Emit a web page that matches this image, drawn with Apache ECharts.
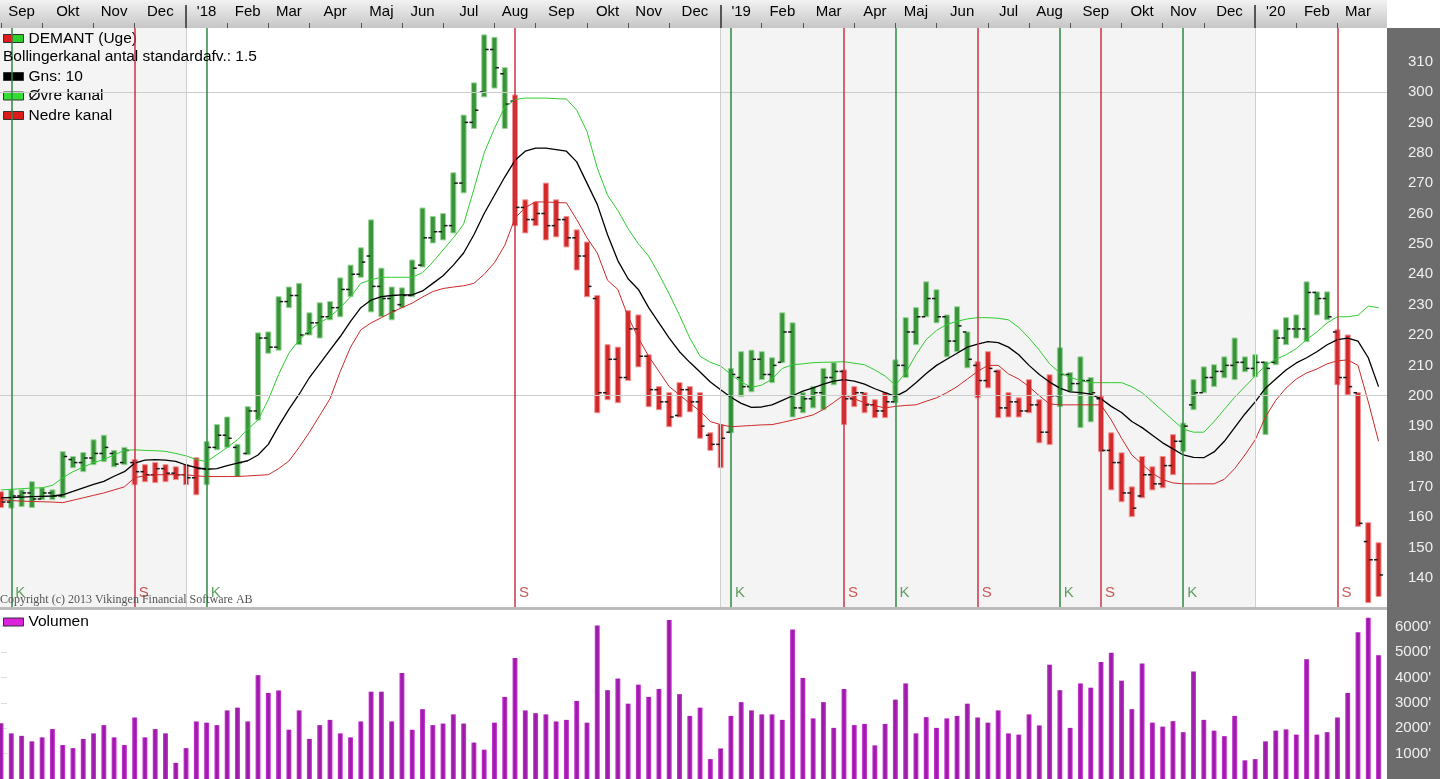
<!DOCTYPE html>
<html><head><meta charset="utf-8">
<script src="https://cdn.jsdelivr.net/npm/echarts@6/dist/echarts.min.js"></script>
<style>html,body{margin:0;padding:0;background:#fff}#c{width:1440px;height:779px}</style>
</head><body><div id="c"></div><script>
// ---------- DATA ----------
const firstWeekEnd = '2017-09-03';   // week-ending date of the first weekly bar
const weekCount = 135;
const monthNames = ['Jan','Feb','Mar','Apr','Maj','Jun','Jul','Aug','Sep','Okt','Nov','Dec'];

const highs = [168.4,169,169,171.7,169.7,169,181.6,180,181.3,185.5,
 187,182,183,179,177.3,178,177.3,176.6,177.3,179.6,
 184.9,190.5,193,184,196.4,220.7,221,232.6,235.8,237,
 227.3,230.6,231,238.8,243,248.7,257.9,242,235.8,235.5,
 244.7,261.8,259,260,273.4,292.4,303,318.8,318,308,
 299,264.5,263.8,270,264.5,259,254.6,250.6,233,216.8,
 216,228,226.6,213.5,203,201,204.3,203,201,187.8,
 190.5,209,214.5,215,214.5,212.5,227.3,224,201,203,
 209,210.9,208.5,203,201,198.7,201,211.8,225.7,229,
 237.5,234.9,226.6,229.3,221,211.2,214.5,208.5,201,199.3,
 205.3,198.7,206.9,215.8,207.6,212.8,206,199.7,187.8,181.2,
 170,180,176.6,180,187.2,191,205.3,209.5,210.2,212.8,
 219,212.8,213.5,211.2,221.7,225.7,226.6,237.5,234.2,234.2,
 221.7,220,201,158.2,151.6];
const lows = [163.2,163,163.5,163.2,165.8,165.8,166.4,176.3,175,177.3,
 178.3,176.6,177.3,170.7,171.7,171.4,171.7,172.4,170.7,167.4,
 170.7,182.2,183,173.4,180.6,192,214,215,229,216.8,
 220,219,225,226,232.6,239,227.6,226,225,229,
 232.6,242.4,250.3,251.3,253.6,266.8,288,298.4,301.3,288,
 256,253.6,256,251.3,252.3,249,241.4,232.6,194.4,198.7,
 197.7,205,209.5,196.4,195.4,189.8,193,194.7,186,182,
 176.3,187.8,199.7,201.3,205.3,204.3,210.9,193,194.4,196,
 195.4,203.6,190.5,196.4,194.4,192.8,192.8,197.7,206,216.8,
 226,224,212.8,214.5,209.2,199.3,202.6,192.8,193,193,
 194.4,184.5,183.9,196.4,201.3,189.5,191.4,181.6,169,165.1,
 160.2,166.4,169,169.7,174,181.6,195.4,201,203,205.9,
 205.3,207.9,206.2,187.2,210.2,216.8,219,217.8,226.6,225,
 203.6,200.3,157,131.9,133.9];
const opens = [167,165,167,168,166,168,167,179,178,179.5,
 181,181,178,178,175,174,176,174.5,174,173,
 176,183,187,183,181,195,219,216,231,233,
 220.5,224,226,229,235,240,246,236,232,230,
 233,243,252,254,256,270,290,300,314,306,
 297,262,258,260,256,258,252,246,232,201,
 212,206,222,213,202,198,193.5,202,198,187,
 184,188,206,203,212,207,211,221,196,199,
 201,206,208,199,201,197,195,198,210,221,
 226,232,226,218,221,210,205,208,196,198,
 195,197,188,200,207,204,205,199,182,178,
 168,167,174,171,177,185,197,201,206,208,
 210,211,209,211,211,219,222,222,234,232,
 221,206,201,152,146];
const closes = [165,167,168,166,168,167,180,178,179.5,181,
 183,177.5,182,175,174,176,174.5,174,173,176,
 183,187,186,178,195,219,216,231,233,220,
 224,226,229,235,240,244,236,232,228,233,
 242,252,254,256,270,290,294,314,308,296,
 262,258,260,256,258,252,246,236,201,212,
 206,222,213,202,198,193,202,198,190,184,
 186,207,203,212,207,210,221,196,199,201,
 206,208,199,201,197,195,198,210,221,226,
 232,226,218,223,212,205,209,196,198,195,
 197,188,200,207,204,205,201,182,178,168,
 163,174,171,177,185,190,201,206,208,210,
 211,209,211,209,219,222,222,234,232,226,
 206,203,158,146,141];

const midBand = [166.4,166.5,166.6,166.8,166.9,167,167.4,168.5,169.7,170.8,
 171.8,173.5,175,177.8,178.8,179,178.8,178.4,177.2,176.3,
 175.8,176,177,177.8,178.6,180.5,184,190,195.5,200.5,
 206,210.5,215,219.5,224.5,229,231.5,232.6,233,233.2,
 233.2,234.5,237,239.5,243,247,253,260,266,272,
 277.5,280.5,281.5,281.5,281,280.5,277,270,263,253,
 244.5,238.5,235,229,224,219,214.5,211,207.8,204.5,
 202,199.5,197.5,196.2,196.3,197,198.5,200,201.5,202.6,
 203.8,204.8,205.3,204.8,203.8,202.3,201,199.8,201.5,204.3,
 207.3,210,212,214,216,217,217.8,217.5,216,213.5,
 210,207,204.5,202.5,201.3,201,200.5,199,196.5,194.5,
 191.5,189.5,187,184.5,182.5,180.5,179.7,179.6,181.5,185,
 189.5,194,198,202.5,205.5,208.5,210.8,212.5,214.5,216.8,
 218.5,219,218,212.5,203];
const upperBand = [169,169.2,169.4,169.6,169.7,170.5,173,175,176.5,178,
 179,180.5,182,182.2,182,181.9,181.7,181,180.2,179,
 178.3,180.6,183,185.5,189,192,198.7,207,214,218.4,
 221.5,224,226,229,232.6,237,238.2,239,239,239,
 239,240.5,244,248,252,256.5,268,280,288,295,
 297.5,298,298,298,297.8,297.7,294,287,275,266,
 261,255,250,246,240,233.5,226.5,219,213,211,
 209.8,207,204.5,202.8,203.5,205.5,209,210.2,210.5,210.9,
 211,211.1,211.2,210.7,210.2,208.5,206.5,203.5,207.5,213.5,
 218.5,221.5,223.5,224.5,225.3,225.7,225.7,225.5,225,222.5,
 219,215,210.5,207.5,206,205,204.3,204.3,204.3,204.3,
 203,201,198,195,192,189,188,188,191.5,195.5,
 199.5,203,206.5,210,212,213.5,215.5,218.5,221,224,
 226,226,226.5,229.5,229];
const lowerBand = [165.8,165.5,165.3,165.2,165.1,165,164.8,165.6,166.4,167.2,
 168,169,170,173,173.7,174,174,174,174,173.6,
 173.4,173.4,173.4,173.4,173.6,173.8,174,176,178.5,183,
 188,193.5,199,208,216,221.7,224,225.7,227.5,229,
 230.5,232.5,234.3,235.3,235.8,236.2,237,240,243.8,249.5,
 258.5,262,263.8,263.8,263.6,263.5,258,252,247,238,
 235,226,219,213,208,203,200.3,197.5,195,191.5,
 190.5,189.8,190,190.2,190.4,190.5,191.2,192,192.8,193.7,
 195.5,197.8,200.3,199,197.7,196.7,196,196.5,196.8,197,
 198.2,199.3,201,203,205.5,208,210,210,207.2,205.5,
 203,200,197.3,197,197,197,197,197,192,186,
 180.5,177.5,174.5,172.4,171.3,171,171,171,171,172.5,
 176,180.5,185.5,193,198.5,202.5,205.5,207.5,208.8,210.5,
 211.5,211.8,210,198,185];

const volumes = [2196,1797,1700,1483,1641,1967,1337,1217,1580,1797,
 2123,1641,1337,2424,1641,1967,1797,638,1217,2268,
 2220,2123,2703,2812,2268,4091,3391,3489,1942,2703,
 1580,2123,2330,1797,1641,2268,3439,3439,2268,4177,
 1942,2751,2123,2184,2546,2184,1435,1156,2220,3234,
 4768,2703,2594,2546,2268,2330,3077,2220,6048,3500,
 3959,2968,3717,3234,3548,6265,3343,2486,2812,783,
 1205,2486,3029,2703,2546,2546,2330,5891,3982,2388,
 3029,2014,3548,2123,2171,1326,2171,3127,3765,1797,
 2438,2014,2388,2486,2968,2424,2220,2703,1797,1749,
 2546,2111,4503,3500,2014,3765,3597,4611,4974,3874,
 2751,4551,2220,2063,2280,1845,4237,2330,1906,1688,
 2486,735,783,1483,1906,1954,1749,4720,1749,1845,
 2424,3391,5782,6351,4877];

const buySignals  = [1, 20, 71, 87, 103, 115];   // "K"
const sellSignals = [13, 50, 82, 95, 107, 130];  // "S"
const priceTicks  = [140,150,160,170,180,190,200,210,220,230,240,250,260,270,280,290,300,310];
const volumeTicks = [1000,2000,3000,4000,5000,6000];
const priceGridLevels = [200, 300];

// ---------- DERIVED ----------
const DAY = 86400000;
const t0 = Date.parse(firstWeekEnd + 'T00:00:00Z');
const weekDates = Array.from({length: weekCount}, (_, i) => new Date(t0 + i * 7 * DAY));
const monthStarts = [];
weekDates.forEach((d, i) => {
  if (i === 0 || d.getUTCMonth() !== weekDates[i - 1].getUTCMonth()) monthStarts.push(i);
});
const yearStarts = monthStarts.filter(i => weekDates[i].getUTCMonth() === 0);
const monthLabelMap = new Map();
const monthLabelPos = monthStarts.map((s, k) => {
  const e = k + 1 < monthStarts.length ? monthStarts[k + 1] : weekCount - 1;
  const pos = (s + e) / 2;
  const d = weekDates[s];
  const m = d.getUTCMonth();
  monthLabelMap.set(pos, m === 0 ? "'" + String(d.getUTCFullYear()).slice(2) : monthNames[m]);
  return pos;
});

const isBuy = [];
{ let st = false;
  for (let i = 0; i < weekCount; i++) {
    if (buySignals.includes(i)) st = true;
    if (sellSignals.includes(i)) st = false;
    isBuy.push(st);
  } }

// ---------- LAYOUT ----------
const PX_PER_WEEK = 10.28;
const PLOT_W = 1387;
const XMIN = -0.1, XMAX = XMIN + PLOT_W / PX_PER_WEEK;
const PMIN = 130.45, PMAX = 321.07;
const FONT = 'Liberation Sans';

const ohlcData = highs.map((h, i) => [i, opens[i], closes[i], lows[i], h]);
const toXY = arr => arr.map((v, i) => [i, v]);

function renderOHLC(params, api) {
  const i = api.value(0);
  const pO = api.coord([i, api.value(1)]);
  const pC = api.coord([i, api.value(2)]);
  const pL = api.coord([i, api.value(3)]);
  const pH = api.coord([i, api.value(4)]);
  const up = isBuy[i];
  const core = up ? '#3a953a' : '#d22a2a';
  const halo = up ? '#98d498' : '#f29494';
  const w = 5, x = pH[0];
  return {type: 'group', children: [
    {type: 'rect', shape: {x: x - w / 2, y: pH[1], width: w, height: Math.max(1, pL[1] - pH[1])},
     style: {fill: core, stroke: halo, lineWidth: 1}},
    {type: 'line', shape: {x1: x - w / 2 - 2, y1: pO[1], x2: x - w / 2 + 1.5, y2: pO[1]},
     style: {stroke: '#1a1a1a', lineWidth: 1.5}},
    {type: 'line', shape: {x1: x + w / 2 - 1.5, y1: pC[1], x2: x + w / 2 + 2, y2: pC[1]},
     style: {stroke: '#1a1a1a', lineWidth: 1.5}}
  ]};
}

// alternate-year shading
const shadeAreas = [];
{ const bounds = [XMIN, ...yearStarts, XMAX];
  for (let k = 0; k + 1 < bounds.length; k += 2) shadeAreas.push([{xAxis: bounds[k]}, {xAxis: bounds[k + 1]}]); }

const labelLevel = PMIN + 4.5;
const signalLabels = [
  ...buySignals.map(i => ({value: [i, labelLevel], label: {formatter: 'K', color: '#3a8a3a'}})),
  ...sellSignals.map(i => ({value: [i, labelLevel], label: {formatter: 'S', color: '#c03030'}}))
];

function vLineSeries(name, xs, color, width, z) {
  return {name, type: 'line', xAxisIndex: 0, yAxisIndex: 0, data: [], z, silent: true,
    markLine: {silent: true, symbol: ['none', 'none'], label: {show: false},
      lineStyle: {color, width, type: 'solid', opacity: 1},
      emphasis: {disabled: true},
      data: xs.map(v => ({xAxis: v}))}};
}

const splitColor = {type: 'linear', x: 0, y: 0, x2: 1, y2: 0,
  colorStops: [{offset: 0, color: '#dd1c1c'}, {offset: 0.5, color: '#dd1c1c'},
               {offset: 0.5, color: '#2bd02b'}, {offset: 1, color: '#2bd02b'}]};
const legendCommon = {orient: 'vertical', left: 3, padding: 0, itemWidth: 20, itemHeight: 8, itemGap: 3.5,
  icon: 'rect', selectedMode: false,
  textStyle: {fontFamily: FONT, fontSize: 15.5, lineHeight: 15, color: '#000'}};

const chart = echarts.init(document.getElementById('c'), null, {renderer: 'canvas'});
chart.setOption({
  animation: false,
  backgroundColor: '#ffffff',
  graphic: [
    {type: 'rect', left: 0, top: 0, z: -10, silent: true, shape: {width: PLOT_W, height: 28},
     style: {fill: {type: 'linear', x: 0, y: 0, x2: 0, y2: 1,
       colorStops: [{offset: 0, color: '#f2f2f2'}, {offset: 1, color: '#c6c6c6'}]}}},
    {type: 'rect', left: PLOT_W, top: 28, z: -10, silent: true, shape: {width: 1440 - PLOT_W, height: 751},
     style: {fill: '#6c6c6c'}},
    {type: 'rect', left: 0, top: 607, z: 10, silent: true, shape: {width: PLOT_W, height: 3},
     style: {fill: '#bcbcbc'}}
  ],
  title: [
    {text: 'Bollingerkanal antal standardafv.: 1.5', left: 3, top: 49, padding: 0,
     textStyle: {fontFamily: FONT, fontSize: 15.5, fontWeight: 'normal', color: '#000'}},
    {text: 'Copyright (c) 2013 Vikingen Financial Software AB', left: 0, top: 594, padding: 0,
     textStyle: {fontFamily: 'Liberation Serif', fontSize: 12, fontWeight: 'normal', color: '#555'}}
  ],
  legend: [
    Object.assign({}, legendCommon, {top: 30.5, data: [
      {name: 'DEMANT (Uge)', itemStyle: {color: splitColor, borderColor: '#333', borderWidth: 1}}]}),
    Object.assign({}, legendCommon, {top: 68.5, data: [
      {name: 'Gns: 10', itemStyle: {color: '#000', borderColor: '#333', borderWidth: 1}},
      {name: 'Øvre kanal', itemStyle: {color: '#33dd33', borderColor: '#333', borderWidth: 1}},
      {name: 'Nedre kanal', itemStyle: {color: '#dd1a1a', borderColor: '#333', borderWidth: 1}}]}),
    Object.assign({}, legendCommon, {top: 614, data: [
      {name: 'Volumen', itemStyle: {color: '#dd22dd', borderColor: '#333', borderWidth: 1}}]})
  ],
  grid: [
    {left: 0, top: 28, width: PLOT_W, height: 579, containLabel: false},
    {left: 0, top: 612, width: PLOT_W, height: 181.6, containLabel: false}
  ],
  xAxis: [
    {type: 'value', gridIndex: 0, position: 'top', min: XMIN, max: XMAX,
     axisLine: {show: false}, splitLine: {show: false},
     axisTick: {show: true, inside: false, length: 5, customValues: monthStarts,
       lineStyle: {color: '#555', width: 1}},
     axisLabel: {show: true, customValues: monthLabelPos, margin: 9,
       formatter: v => monthLabelMap.get(v) || '',
       fontFamily: FONT, fontSize: 15, color: '#000'}},
    {type: 'value', gridIndex: 1, min: XMIN, max: XMAX, show: false},
    {type: 'value', gridIndex: 0, position: 'top', min: XMIN, max: XMAX,
     axisLine: {show: false}, splitLine: {show: false}, axisLabel: {show: false},
     axisTick: {show: true, inside: false, length: 23, customValues: yearStarts,
       lineStyle: {color: '#555', width: 2}}}
  ],
  yAxis: [
    {type: 'value', gridIndex: 0, position: 'right', min: PMIN, max: PMAX,
     axisLine: {show: false}, splitLine: {show: false},
     axisTick: {show: true, inside: false, length: 6, customValues: priceTicks,
       lineStyle: {color: '#dddddd', width: 1}},
     axisLabel: {customValues: priceTicks, margin: 21, fontFamily: FONT, fontSize: 15, color: '#f0f0f0'}},
    {type: 'value', gridIndex: 1, position: 'right', min: 0, max: 6580,
     axisLine: {show: false}, splitLine: {show: false},
     axisTick: {show: true, inside: false, length: 6, customValues: volumeTicks,
       lineStyle: {color: '#dddddd', width: 1}},
     axisLabel: {customValues: volumeTicks, margin: 8, fontFamily: FONT, fontSize: 15, color: '#f0f0f0',
       formatter: v => v + "'"}}
  ],
  series: [
    {name: 'bg', type: 'line', xAxisIndex: 0, yAxisIndex: 0, data: [], z: 1, silent: true,
     markArea: {silent: true, itemStyle: {color: '#f4f4f4'}, data: shadeAreas},
     markLine: {silent: true, symbol: ['none', 'none'], label: {show: false},
       lineStyle: {color: '#cccccc', width: 1, type: 'solid'},
       data: priceGridLevels.map(v => ({yAxis: v}))}},
    vLineSeries('yearLines', yearStarts, '#cfcfcf', 1, 1),
    vLineSeries('buyLines', buySignals, '#2f8a40', 1.5, 1),
    vLineSeries('sellLines', sellSignals, '#cc3344', 1.5, 1),
    {name: 'DEMANT (Uge)', type: 'custom', xAxisIndex: 0, yAxisIndex: 0, z: 2, clip: true,
     renderItem: renderOHLC, encode: {x: 0, y: [1, 2, 3, 4]}, data: ohlcData,
     itemStyle: {color: '#3a953a'}},
    {name: 'Øvre kanal', type: 'line', xAxisIndex: 0, yAxisIndex: 0, z: 3, showSymbol: false,
     data: toXY(upperBand), lineStyle: {color: '#2ecc2e', width: 1}, itemStyle: {color: '#33dd33'}},
    {name: 'Gns: 10', type: 'line', xAxisIndex: 0, yAxisIndex: 0, z: 3, showSymbol: false,
     data: toXY(midBand), lineStyle: {color: '#000', width: 1.3}, itemStyle: {color: '#000'}},
    {name: 'Nedre kanal', type: 'line', xAxisIndex: 0, yAxisIndex: 0, z: 3, showSymbol: false,
     data: toXY(lowerBand), lineStyle: {color: '#cc2a2a', width: 1}, itemStyle: {color: '#dd1a1a'}},
    {name: 'signals', type: 'scatter', xAxisIndex: 0, yAxisIndex: 0, z: 4, symbolSize: 0, silent: true,
     data: signalLabels,
     label: {show: true, position: 'right', distance: 4, fontFamily: FONT, fontSize: 15}},
    {name: 'Volumen', type: 'bar', xAxisIndex: 1, yAxisIndex: 1, barWidth: 5, z: 2,
     data: toXY(volumes),
     itemStyle: {color: {type: 'linear', x: 0, y: 0, x2: 1, y2: 0,
       colorStops: [{offset: 0, color: '#d23ee0'}, {offset: 0.35, color: '#9c1ca8'},
                    {offset: 0.65, color: '#9c1ca8'}, {offset: 1, color: '#d23ee0'}]}}}
  ]
});
</script></body></html>
